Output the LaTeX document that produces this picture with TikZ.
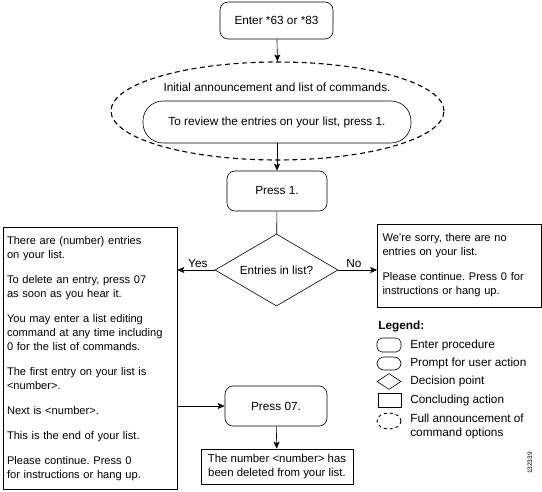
\documentclass[tikz,border=0pt]{standalone}
\usepackage{fontspec}
\setmainfont{Liberation Sans}
\usetikzlibrary{shapes.geometric,arrows.meta}
\frenchspacing
\begin{document}
\begin{tikzpicture}[x=1pt,y=-1pt,font=\fontsize{11.8}{14.5}\selectfont]
\tikzstyle{every node}+=[inner sep=0pt]
\tikzstyle{every path}+=[line width=0.6pt]
\tikzstyle{proc}=[draw, rounded corners=8pt]
\tikzstyle{prompt}=[draw, rounded corners=20pt]
\tikzstyle{decide}=[draw, diamond, aspect=1.7]
\tikzstyle{concl}=[draw]
\tikzstyle{boxtext}=[font=\fontsize{11.1}{14}\selectfont, align=left]
\tikzstyle{announce}=[draw, ellipse, dash pattern=on 5pt off 3.5pt, line width=1.1pt]
\tikzstyle{flow}=[-{Stealth[length=7pt,width=6pt,inset=1.5pt]}]
\tikzstyle{legtext}=[anchor=west, align=left]
\useasboundingbox (0,0) rectangle (542,492);
% main flow
\node [proc, minimum width=113pt, minimum height=37pt] (enter) at (276.5,20.5) {Enter *63 or *83};
\node [announce, minimum width=333pt, minimum height=98pt] (announce) at (277.5,111) {};
\node (anntext) at (277,87) {Initial announcement and list of commands.};
\node [prompt, minimum width=268pt, minimum height=42pt] (review) at (277,122) {To review the entries on your list, press 1.};
\node [proc, minimum width=100pt, minimum height=40pt] (press1) at (277,191) {Press 1.};
\node [decide, minimum width=123pt, minimum height=72pt] (check) at (276.5,270) {Entries in list?};
\node [concl, boxtext, minimum width=174pt, minimum height=262pt, text width=166pt] (entries) at (90,358.5) {%
There are (number) entries\\on your list.\\[11pt]
To delete an entry, press 07\\as soon as you hear it.\\[11pt]
You may enter a list editing\\command at any time including\\0 for the list of commands.\\[11pt]
The first entry on your list is\\<number>.\\[11pt]
Next is <number>.\\[11pt]
This is the end of your list.\\[11pt]
Please continue. Press 0\\for instructions or hang up.};
\node [concl, boxtext, minimum width=164pt, minimum height=83pt, text width=154pt] (noentries) at (459.5,265.5) {%
We're sorry, there are no\\entries on your list.\\[11pt]
Please continue. Press 0 for\\instructions or hang up.};
\node [proc, minimum width=102pt, minimum height=40pt] (press07) at (276,406) {Press 07.};
\node [concl, minimum width=152pt, minimum height=35pt, align=center, font=\fontsize{11.4}{14}\selectfont] (deleted) at (277,466.5) {The number <number> has\\been deleted from your list.};
% connectors
\draw [flow] (enter) -- (announce.north);
\draw [flow] (review) -- (press1);
\draw (press1) -- (check);
\draw [flow] (check.west) -- (entries.east |- check.west) node [pos=0.45, above=2pt] {Yes};
\draw [flow] (check.east) -- (noentries.west |- check.east) node [pos=0.4, above=2pt] {No};
\draw [flow] (entries.east |- press07.west) -- (press07.west);
\draw [flow] (press07) -- (deleted);
% legend
\node [anchor=west, font=\fontsize{11.8}{14}\selectfont\bfseries] (legend) at (378,326) {Legend:};
\node [proc, rounded corners=5pt, minimum width=24pt, minimum height=14pt] (legproc) at (389,345) {};
\node [legtext] at (410,345) {Enter procedure};
\node [prompt, rounded corners=7pt, minimum width=24pt, minimum height=13pt] (legprompt) at (389,363.5) {};
\node [legtext] at (410,363.5) {Prompt for user action};
\node [decide, minimum width=24pt, minimum height=16pt, aspect=1.5] (legdecide) at (389,381.5) {};
\node [legtext] at (410,381.5) {Decision point};
\node [concl, minimum width=23pt, minimum height=14pt] (legconcl) at (389.5,400) {};
\node [legtext] at (410,400) {Concluding action};
\node [announce, line width=0.9pt, dash pattern=on 3pt off 3pt, minimum width=24pt, minimum height=16pt] (legannounce) at (389,421) {};
\node [legtext] at (410,426.5) {Full announcement of\\command options};
\node [rotate=90, font=\fontsize{6.5}{7}\selectfont] (fignum) at (530,463) {132339};
\end{tikzpicture}
\end{document}
